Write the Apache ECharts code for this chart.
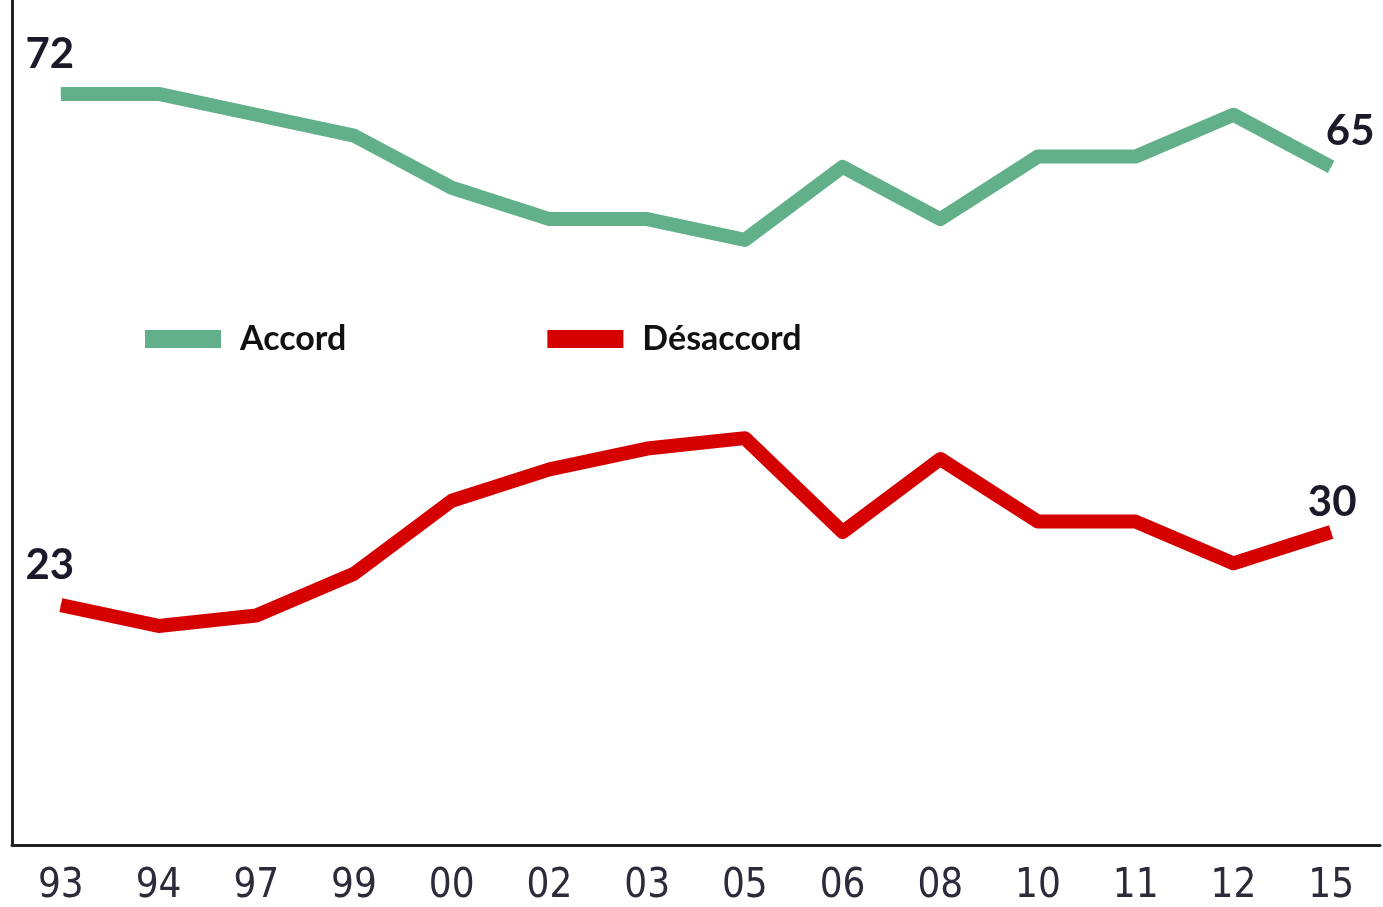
<!DOCTYPE html>
<html>
<head>
<meta charset="utf-8">
<script src="https://cdn.jsdelivr.net/npm/echarts@6/dist/echarts.min.js"></script>
<style>
  html, body { margin: 0; padding: 0; background: #fff; }
  #chart { width: 1383px; height: 907px; }
</style>
</head>
<body>
<div id="chart"></div>
<script>
const years = ["93", "94", "97", "99", "00", "02", "03", "05", "06", "08", "10", "11", "12", "15"];
const accord = [72, 72, 70, 68, 63, 60, 60, 58, 65, 60, 66, 66, 70, 65];
const desaccord = [23, 21, 22, 26, 33, 36, 38, 39, 30, 37, 31, 31, 27, 30];

const GREEN = "#62b08a";
const RED = "#d50000";

// only the first and last points carry a value label
function withEndLabels(values, firstOffset, lastOffset) {
  return values.map((v, i) => {
    const last = i === values.length - 1;
    if (i !== 0 && !last) return v;
    return {
      value: v,
      label: { show: true, position: "top", offset: i === 0 ? firstOffset : lastOffset },
    };
  });
}

const labelFont = {
  fontFamily: "Lato",
  fontWeight: "bold",
  fontSize: 42,
  color: "#1a1a2a",
};

const chart = echarts.init(document.getElementById("chart"));

const option = {
  animation: false,
  grid: { left: 12, right: 3, top: 0, bottom: 62 },
  legend: {
    left: 140,
    top: 317,
    icon: "rect",
    itemWidth: 76,
    itemHeight: 18,
    itemGap: 201,
    textStyle: {
      fontFamily: "Lato",
      fontWeight: "bold",
      fontSize: 34,
      color: "#111",
      padding: [0, 0, 14, 14],
    },
    data: ["Accord", "Désaccord"],
  },
  xAxis: {
    type: "category",
    data: years,
    boundaryGap: true,
    axisLine: { lineStyle: { color: "#222", width: 3 } },
    axisTick: { show: false },
    axisLabel: {
      margin: 22,
      fontFamily: "Liberation Sans Narrow, DejaVu Sans Condensed, sans-serif",
      fontSize: 40,
      color: "#2b2b3a",
    },
  },
  yAxis: {
    type: "value",
    min: 0,
    max: 81,
    axisLine: { show: true, lineStyle: { color: "#222", width: 3 } },
    axisTick: { show: false },
    axisLabel: { show: false },
    splitLine: { show: false },
  },
  series: [
    {
      name: "Accord",
      type: "line",
      color: GREEN,
      symbol: "circle",
      symbolSize: 1,
      lineStyle: { width: 14, color: GREEN, join: "round" },
      label: labelFont,
      data: withEndLabels(accord, [-11, -13], [19, -9]),
    },
    {
      name: "Désaccord",
      type: "line",
      color: RED,
      symbol: "circle",
      symbolSize: 1,
      lineStyle: { width: 14, color: RED, join: "round" },
      label: labelFont,
      data: withEndLabels(desaccord, [-11, -13], [1, -3]),
    },
  ],
};

chart.setOption(option);
</script>
</body>
</html>
